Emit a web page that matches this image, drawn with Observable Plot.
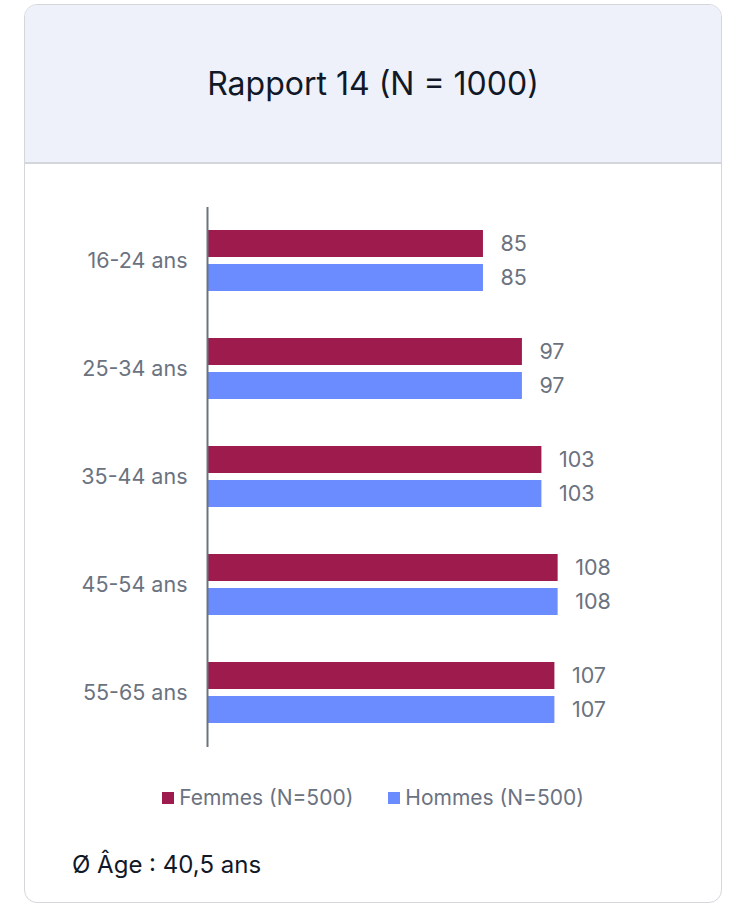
<!DOCTYPE html>
<html>
<head>
<meta charset="utf-8">
<script src="https://cdn.jsdelivr.net/npm/d3@7"></script>
<script src="https://cdn.jsdelivr.net/npm/@observablehq/plot@0.6"></script>
<style>
  html, body { margin: 0; padding: 0; background: #fff; font-family: Inter, "Noto Sans", sans-serif; }
  .card {
    position: absolute; left: 24px; top: 4px; width: 696px; height: 897px;
    border: 1.5px solid #d4d6dc; border-radius: 13px; overflow: hidden; background: #fff;
  }
  .header {
    height: 157px; background: #eef1f9; border-bottom: 2px solid #d4d6dc;
    display: flex; align-items: center; justify-content: center;
  }
  .header h1 { margin: 0; font-weight: 400; font-size: 32px; color: #111827; }
  #chart svg { display: block; }
  #legend { margin-top: 24px; }
  .leg-swatches { justify-content: center !important; font-family: Inter, sans-serif !important; font-size: 21px !important; color: #6b7280 !important; }
  .leg-swatch { margin-right: 35px !important; }
  .leg-swatch:last-child { margin-right: 0 !important; }
  .leg-swatch > svg { margin-right: 5px !important; }
  .caption { position: absolute; left: 47px; top: 845px; font-size: 24px; color: #111827; }
</style>
</head>
<body>
<div class="card">
  <div class="header"><h1>Rapport 14 (N = 1000)</h1></div>
  <div id="chart"></div>
  <div id="legend"></div>
  <div class="caption">Ø Âge : 40,5 ans</div>
</div>
<script>
const ages = ["16-24 ans", "25-34 ans", "35-44 ans", "45-54 ans", "55-65 ans"];
const series = ["Femmes (N=500)", "Hommes (N=500)"];
const femmes = [85, 97, 103, 108, 107];
const hommes = [85, 97, 103, 108, 107];
const colors = ["#9e1b4e", "#6b8cff"];

const data = [];
ages.forEach((a, i) => {
  data.push({age: a, serie: series[0], value: femmes[i]});
  data.push({age: a, serie: series[1], value: hommes[i]});
});

const chart = Plot.plot({
  width: 696,
  height: 593,
  marginLeft: 182,
  marginRight: 27,
  marginTop: 42,
  marginBottom: 10,
  style: {fontFamily: "Inter, sans-serif", fontSize: "21.5px", color: "#6b7280", background: "transparent"},
  x: {domain: [0, 150], axis: null},
  y: {domain: series, axis: null, paddingInner: 0.2, paddingOuter: 0.643},
  fy: {domain: ages, axis: "left", padding: 0, tickSize: 0, tickPadding: 20, label: null},
  color: {domain: series, range: colors},
  marks: [
    Plot.barX(data, {x: "value", y: "serie", fy: "age", fill: "serie"}),
    Plot.text(data, {x: "value", y: "serie", fy: "age", text: d => String(d.value), dx: 17, textAnchor: "start", fill: "#6b7280", fontSize: 21.5}),
    Plot.ruleX([0], {stroke: "#6b7280", strokeWidth: 2})
  ]
});
document.getElementById("chart").appendChild(chart);

const legend = Plot.legend({
  color: {domain: series, range: colors},
  swatchSize: 12,
  className: "leg"
});
document.getElementById("legend").appendChild(legend);
</script>
</body>
</html>
